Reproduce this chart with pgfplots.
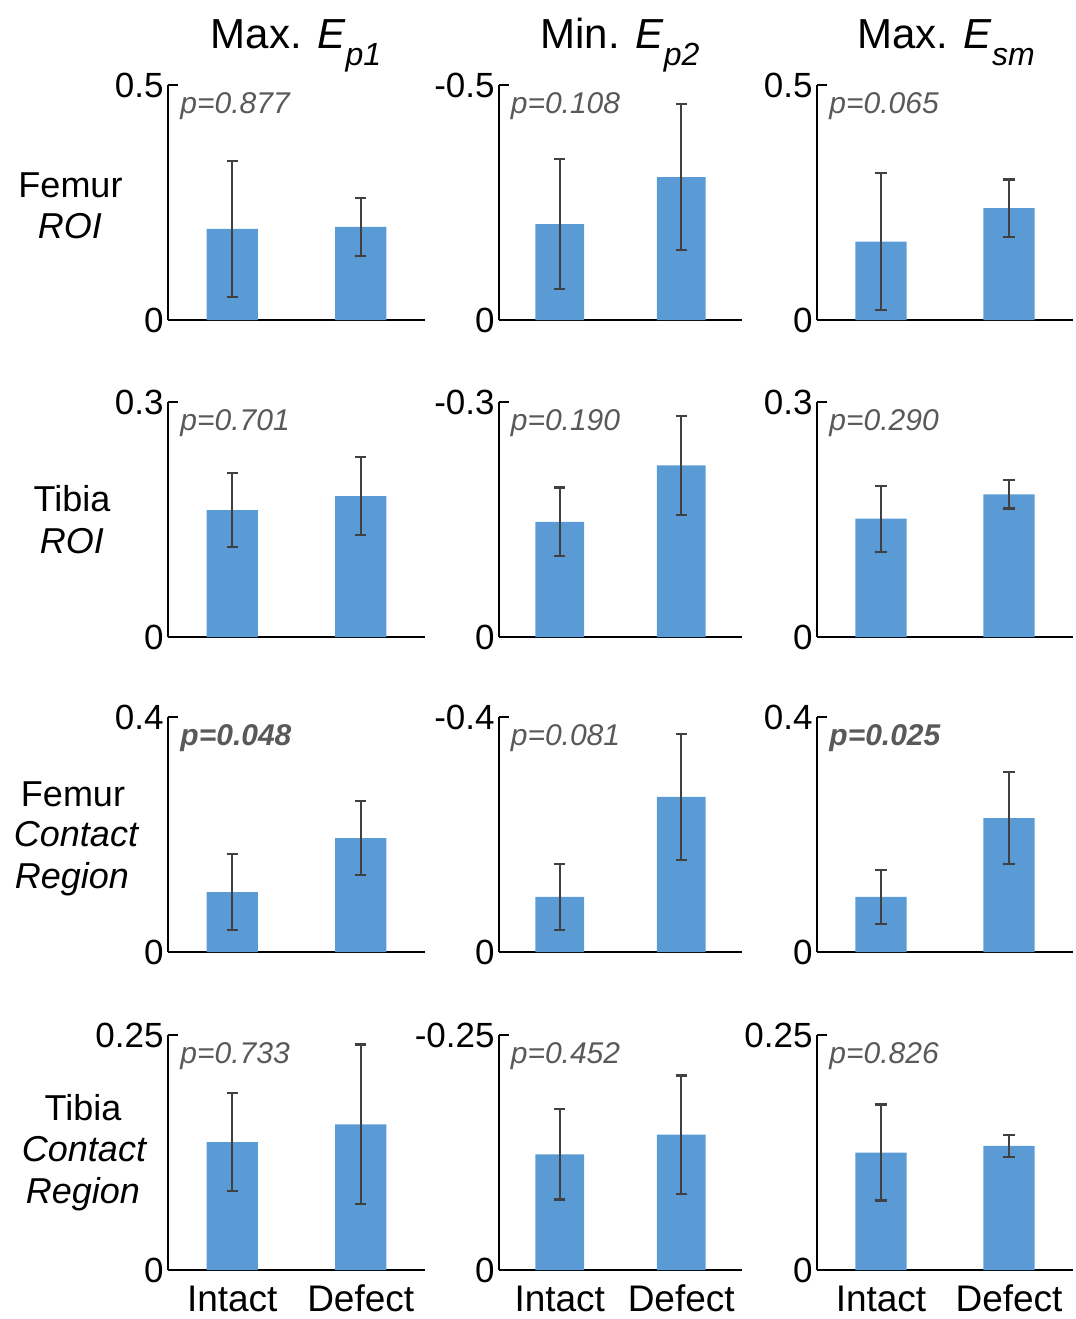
\documentclass[border=0pt]{standalone}
\usepackage{pgfplots}
\pgfplotsset{compat=1.18}
\usepackage{fontspec}
\setmainfont{Liberation Sans}
\definecolor{barblue}{HTML}{5B9BD5}
\definecolor{errgray}{HTML}{404040}
\definecolor{ptext}{HTML}{595959}
\pgfplotsset{
  panel/.style={
    scale only axis, height=117.5pt, anchor=south west,
    axis lines=left, axis line style={line width=1pt,-},
    ybar, bar width=0.4, xmin=0.5, xmax=2.5,
    xtick={1,2}, xticklabels={}, xtick style={draw=none},
    ytick style={line width=1pt, black},
    tick align=inside, major tick length=5pt,
    yticklabel style={font=\fontsize{17.5}{17.5}\selectfont, inner sep=2pt},
    xticklabel style={font=\fontsize{18.5}{18.5}\selectfont, anchor=base, inner sep=0pt, yshift=-20.5pt},
    clip=false,
    error bars/y dir=both, error bars/y explicit,
    error bars/error bar style={line width=1.1pt, errgray},
    error bars/error mark options={rotate=90, mark size=2.8pt, line width=1.1pt, errgray},
  },
  neg/.style={y dir=reverse},
  bottomrow/.style={xticklabels={Intact,Defect}},
  bar/.style={fill=barblue, draw=none},
}
\newcommand{\pval}[1]{\node[anchor=west, inner sep=0pt, text=ptext, font=\fontsize{15}{15}\selectfont\itshape] at (axis description cs:0.047,0.91) {#1};}
\newcommand{\ttl}[2]{#1 \textit{E}\raisebox{-8.5pt}{\fontsize{16}{16}\selectfont\itshape #2}}
\begin{document}
\begin{tikzpicture}
\useasboundingbox (0,0) rectangle (538pt,-659.5pt);
% titles
\node[anchor=base, font=\fontsize{21}{21}\selectfont] at (148pt,-24pt) {\ttl{Max.}{p1}};
\node[anchor=base, font=\fontsize{21}{21}\selectfont] at (310pt,-24pt) {\ttl{Min.}{p2}};
\node[anchor=base, font=\fontsize{21}{21}\selectfont] at (473pt,-24pt) {\ttl{Max.}{sm}};
% row labels
\begin{scope}[every node/.style={anchor=base, font=\fontsize{18}{18}\selectfont}]
\node at (35.25pt,-98.5pt) {Femur};
\node at (35pt,-119pt) {\itshape ROI};
\node at (36pt,-255.5pt) {Tibia};
\node at (36pt,-276.5pt) {\itshape ROI};
\node at (36.5pt,-403pt) {Femur};
\node at (38pt,-423pt) {\itshape Contact};
\node at (36pt,-444pt) {\itshape Region};
\node at (41.5pt,-560pt) {Tibia};
\node at (42pt,-580.5pt) {\itshape Contact};
\node at (41.5pt,-601.5pt) {\itshape Region};
\end{scope}
% ---------- Row 1: Femur ROI ----------
\begin{axis}[panel, at={(84pt,-160pt)}, width=128.5pt, ymin=0, ymax=0.5, ytick={0,0.5}, yticklabels={0,0.5}]
\addplot[bar] coordinates {(1,0.194) +- (0,0.145) (2,0.198) +- (0,0.061)};
\pval{p=0.877}
\end{axis}
\begin{axis}[panel, neg, at={(249.5pt,-160pt)}, width=121.5pt, ymin=-0.5, ymax=0, ytick={-0.5,0}, yticklabels={-0.5,0}]
\addplot[bar] coordinates {(1,-0.204) +- (0,0.138) (2,-0.304) +- (0,0.155)};
\pval{p=0.108}
\end{axis}
\begin{axis}[panel, at={(408.5pt,-160pt)}, width=128pt, ymin=0, ymax=0.5, ytick={0,0.5}, yticklabels={0,0.5}]
\addplot[bar] coordinates {(1,0.167) +- (0,0.146) (2,0.238) +- (0,0.061)};
\pval{p=0.065}
\end{axis}
% ---------- Row 2: Tibia ROI ----------
\begin{axis}[panel, at={(84pt,-318.5pt)}, width=128.5pt, ymin=0, ymax=0.3, ytick={0,0.3}, yticklabels={0,0.3}]
\addplot[bar] coordinates {(1,0.162) +- (0,0.047) (2,0.180) +- (0,0.050)};
\pval{p=0.701}
\end{axis}
\begin{axis}[panel, neg, at={(249.5pt,-318.5pt)}, width=121.5pt, ymin=-0.3, ymax=0, ytick={-0.3,0}, yticklabels={-0.3,0}]
\addplot[bar] coordinates {(1,-0.147) +- (0,0.044) (2,-0.219) +- (0,0.063)};
\pval{p=0.190}
\end{axis}
\begin{axis}[panel, at={(408.5pt,-318.5pt)}, width=128pt, ymin=0, ymax=0.3, ytick={0,0.3}, yticklabels={0,0.3}]
\addplot[bar] coordinates {(1,0.151) +- (0,0.042) (2,0.182) +- (0,0.018)};
\pval{p=0.290}
\end{axis}
% ---------- Row 3: Femur Contact Region ----------
\begin{axis}[panel, at={(84pt,-476pt)}, width=128.5pt, ymin=0, ymax=0.4, ytick={0,0.4}, yticklabels={0,0.4}]
\addplot[bar] coordinates {(1,0.102) +- (0,0.065) (2,0.194) +- (0,0.063)};
\pval{\bfseries p=0.048}
\end{axis}
\begin{axis}[panel, neg, at={(249.5pt,-476pt)}, width=121.5pt, ymin=-0.4, ymax=0, ytick={-0.4,0}, yticklabels={-0.4,0}]
\addplot[bar] coordinates {(1,-0.094) +- (0,0.056) (2,-0.264) +- (0,0.107)};
\pval{p=0.081}
\end{axis}
\begin{axis}[panel, at={(408.5pt,-476pt)}, width=128pt, ymin=0, ymax=0.4, ytick={0,0.4}, yticklabels={0,0.4}]
\addplot[bar] coordinates {(1,0.094) +- (0,0.046) (2,0.228) +- (0,0.078)};
\pval{\bfseries p=0.025}
\end{axis}
% ---------- Row 4: Tibia Contact Region ----------
\begin{axis}[panel, bottomrow, at={(84pt,-635pt)}, width=128.5pt, ymin=0, ymax=0.25, ytick={0,0.25}, yticklabels={0,0.25}]
\addplot[bar] coordinates {(1,0.136) +- (0,0.052) (2,0.155) +- (0,0.085)};
\pval{p=0.733}
\end{axis}
\begin{axis}[panel, neg, bottomrow, at={(249.5pt,-635pt)}, width=121.5pt, ymin=-0.25, ymax=0, ytick={-0.25,0}, yticklabels={-0.25,0}]
\addplot[bar] coordinates {(1,-0.123) +- (0,0.048) (2,-0.144) +- (0,0.063)};
\pval{p=0.452}
\end{axis}
\begin{axis}[panel, bottomrow, at={(408.5pt,-635pt)}, width=128pt, ymin=0, ymax=0.25, ytick={0,0.25}, yticklabels={0,0.25}]
\addplot[bar] coordinates {(1,0.125) +- (0,0.051) (2,0.132) +- (0,0.012)};
\pval{p=0.826}
\end{axis}
\end{tikzpicture}
\end{document}
